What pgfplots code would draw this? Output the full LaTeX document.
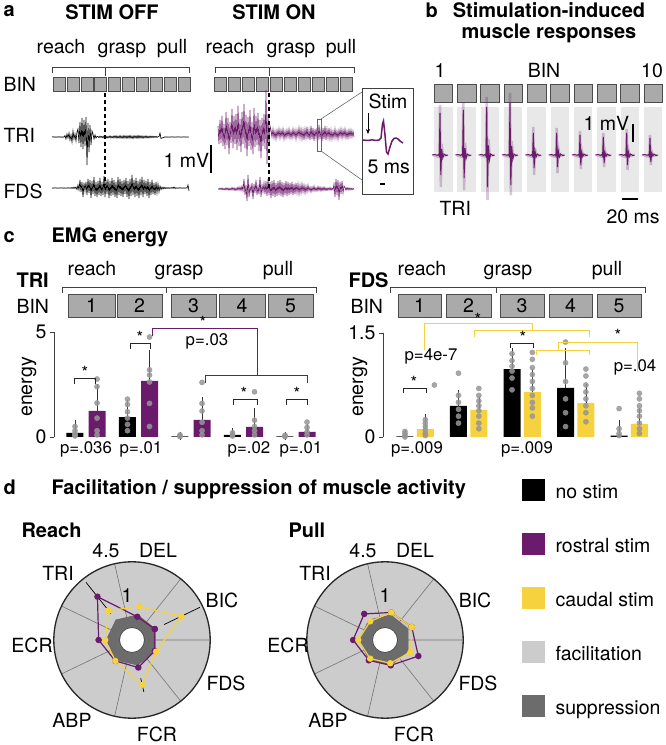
\documentclass[border=0pt]{standalone}
\usepackage{pgfplots}
\pgfplotsset{compat=1.18}
\usetikzlibrary{arrows.meta}
\usepackage{fontspec}
\setmainfont{TeX Gyre Heros}
\definecolor{purp}{RGB}{107,27,107}
\definecolor{yell}{RGB}{245,210,62}
\definecolor{facil}{RGB}{204,204,204}
\definecolor{supp}{RGB}{108,108,108}
\definecolor{binbox}{RGB}{170,170,170}
\definecolor{colb}{RGB}{232,232,232}
\definecolor{dotg}{RGB}{150,150,150}
\newcommand\fs{\fontsize{19.5}{23}\selectfont}
\newcommand\bfs{\fontsize{20}{24}\selectfont\bfseries}
\newcommand\ps{\fontsize{16.8}{20}\selectfont}
\pgfplotsset{
 barax/.style={anchor=south west, scale only axis, axis x line=none, axis y line=left,
   y axis line style={-,line width=0.6pt,black!75}, tick align=outside, major tick length=4pt,
   ytick style={line width=0.6pt,black!75}, tick label style={font=\fs},
   /pgf/number format/assume math mode=true, clip=false},
 dots/.style={only marks, mark=*, mark size=2.6pt, color=dotg, opacity=0.85},
 polax/.style={anchor=center, scale only axis, width=156.4pt, height=156.4pt,
   xmin=-5.32, xmax=5.32, ymin=-5.32, ymax=5.32, hide axis, clip=false},
}
\begin{document}
\begin{tikzpicture}[font=\fs, binst/.style={fill=binbox,draw=black!70,line width=0.6pt}]
\useasboundingbox (0,0) rectangle (665pt,745pt);

%================ Panel c: TRI bars
\begin{axis}[barax, at={(54pt,308pt)}, width=263pt, height=105pt,
  xmin=0.39, xmax=5.40, ymin=0, ymax=5, ytick={0,5}]
\addplot[ybar, bar width=17pt, bar shift=0pt, fill=black, draw=none,
  error bars/.cd, y dir=plus, y explicit, error bar style={line width=0.6pt,black!80},
  error mark options={mark size=4pt,line width=0.6pt,black!80}]
  coordinates {(0.79,0.2)+-(0,0.4) (1.79,0.95)+-(0,0.62) (2.79,0.03)+-(0,0.04) (3.79,0.1)+-(0,0.14) (4.79,0.03)+-(0,0.04)};
\addplot[ybar, bar width=17pt, bar shift=0pt, fill=purp, draw=none,
  error bars/.cd, y dir=plus, y explicit, error bar style={line width=0.6pt,black!80},
  error mark options={mark size=4pt,line width=0.6pt,black!80}]
  coordinates {(1.21,1.24)+-(0,1.09) (2.21,2.67)+-(0,1.28) (3.21,0.81)+-(0,0.9) (4.21,0.48)+-(0,0.71) (5.21,0.24)+-(0,0.19)};
\addplot[dots] coordinates {(0.79,0.5)(0.79,0.3)(0.79,0.15)(0.79,0.1)(0.79,0.05)
 (1.79,1.8)(1.79,1.55)(1.79,1.2)(1.79,0.9)(1.79,0.6)(1.79,0.3)
 (2.79,0.1)(2.79,0.05)(2.79,0.02)(3.79,0.2)(3.79,0.1)(3.79,0.05)(4.79,0.08)(4.79,0.04)(4.79,0.02)};
\addplot[dots] coordinates {(1.21,2.76)(1.21,2.4)(1.21,1.62)(1.21,0.9)(1.21,0.3)(1.21,0.1)
 (2.21,4.76)(2.21,3.2)(2.21,2.95)(2.21,2.62)(2.21,1.6)(2.21,0.5)
 (3.21,2.6)(3.21,1.6)(3.21,1.24)(3.21,0.7)(3.21,0.3)(3.21,0.1)
 (4.21,2.15)(4.21,0.8)(4.21,0.5)(4.21,0.3)(4.21,0.1)
 (5.21,0.71)(5.21,0.45)(5.21,0.25)(5.21,0.1)};
\end{axis}

%================ Panel c: FDS bars
\begin{axis}[barax, at={(383pt,308pt)}, width=265pt, height=104pt,
  xmin=0.40, xmax=5.35, ymin=0, ymax=1.5, ytick={0,1.5}]
\addplot[ybar, bar width=17pt, bar shift=0pt, fill=black, draw=none,
  error bars/.cd, y dir=plus, y explicit, error bar style={line width=0.6pt,black!80},
  error mark options={mark size=4pt,line width=0.6pt,black!80}]
  coordinates {(0.81,0.01)+-(0,0.03) (1.81,0.45)+-(0,0.17) (2.81,0.98)+-(0,0.24) (3.81,0.71)+-(0,0.52) (4.81,0.02)+-(0,0.17)};
\addplot[ybar, bar width=17pt, bar shift=0pt, fill=yell, draw=none,
  error bars/.cd, y dir=plus, y explicit, error bar style={line width=0.6pt,black!80},
  error mark options={mark size=4pt,line width=0.6pt,black!80}]
  coordinates {(1.19,0.115)+-(0,0.155) (2.19,0.39)+-(0,0.13) (3.19,0.65)+-(0,0.27) (4.19,0.49)+-(0,0.22) (5.19,0.19)+-(0,0.17)};
\addplot[dots] coordinates {(0.81,0.08)(0.81,0.05)(0.81,0.02)(0.81,0)
 (1.81,0.92)(1.81,0.6)(1.81,0.5)(1.81,0.4)(1.81,0.3)(1.81,0.2)
 (2.81,1.2)(2.81,1.1)(2.81,1.02)(2.81,0.95)(2.81,0.85)(2.81,0.68)
 (3.81,1.37)(3.81,1.07)(3.81,0.8)(3.81,0.55)(3.81,0.35)(3.81,0.15)
 (4.81,0.41)(4.81,0.12)(4.81,0.05)(4.81,0.02)};
\addplot[dots] coordinates {(1.19,0.25)(1.19,0.2)(1.19,0.15)(1.19,0.1)(1.19,0.05)(1.19,0.02)(1.36,0.75)
 (2.19,0.7)(2.19,0.6)(2.19,0.52)(2.19,0.45)(2.19,0.38)(2.19,0.3)(2.19,0.2)(2.19,0.12)
 (3.19,1.22)(3.19,1.12)(3.19,1.0)(3.19,0.9)(3.19,0.8)(3.19,0.7)(3.19,0.6)(3.19,0.5)(3.19,0.42)(3.19,0.3)
 (4.19,0.98)(4.19,0.88)(4.19,0.75)(4.19,0.65)(4.19,0.55)(4.19,0.45)(4.19,0.35)(4.19,0.22)
 (5.19,0.63)(5.19,0.55)(5.19,0.45)(5.19,0.38)(5.19,0.3)(5.19,0.2)(5.19,0.12)(5.19,0.05)};
\end{axis}

%================ Panel d: Reach polar
\begin{axis}[polax, at={(132pt,105pt)}]
\fill[facil] (0,0) circle[radius=5.32];
\addplot[black!55, line width=0.6pt, data cs=polar, empty line=jump] table {
a r
0 0.82
0 5.32

51.43 0.82
51.43 5.32

102.86 0.82
102.86 5.32

154.29 0.82
154.29 5.32

205.71 0.82
205.71 5.32

257.14 0.82
257.14 5.32

308.57 0.82
308.57 5.32
};
\addplot[fill=supp, draw=black!60, line width=0.6pt, data cs=polar] table {
a r
25.71 1.75
77.14 1.75
128.57 1.75
180 1.75
231.43 1.75
282.86 1.75
334.29 1.75
25.71 1.75
};
\draw[black!70, line width=0.8pt, fill=white] (0,0) circle[radius=0.85];
\draw[black!85, line width=1.3pt] (0,0) circle[radius=5.32];
\addplot[purp, line width=1.2pt, mark=*, mark size=2.6pt, mark options={fill=purp}, data cs=polar] table[x=a, y expr=\thisrow{v}+0.82] {
a v
25.71 0.9
77.14 0.8
128.57 2.95
180 1.45
231.43 1.0
282.86 1.1
334.29 0.9
25.71 0.9
};
\addplot[yell, line width=1.2pt, mark=*, mark size=2.6pt, mark options={fill=yell}, data cs=polar] table[x=a, y expr=\thisrow{v}+0.82] {
a v
25.71 2.9
77.14 1.5
128.57 1.75
180 1.0
231.43 1.0
282.86 2.3
334.29 1.0
25.71 2.9
};
\addplot[black, line width=0.7pt, data cs=polar, empty line=jump] table[x=a, y expr=\thisrow{v}+0.82] {
a v
25.71 0.75
25.71 1.05

77.14 0.65
77.14 0.95

128.57 1.7
128.57 4.2

180 1.25
180 1.65

231.43 0.8
231.43 1.2

282.86 0.95
282.86 1.25

334.29 0.75
334.29 1.05

25.71 1.6
25.71 4.3

77.14 1.3
77.14 1.7

128.57 1.5
128.57 2.0

180 0.85
180 1.15

231.43 0.85
231.43 1.15

282.86 1.85
282.86 2.8

334.29 0.85
334.29 1.15
};
\end{axis}

%================ Panel d: Pull polar
\begin{axis}[polax, at={(385pt,105pt)}]
\fill[facil] (0,0) circle[radius=5.32];
\addplot[black!55, line width=0.6pt, data cs=polar, empty line=jump] table {
a r
0 0.82
0 5.32

51.43 0.82
51.43 5.32

102.86 0.82
102.86 5.32

154.29 0.82
154.29 5.32

205.71 0.82
205.71 5.32

257.14 0.82
257.14 5.32

308.57 0.82
308.57 5.32
};
\addplot[fill=supp, draw=black!60, line width=0.6pt, data cs=polar] table {
a r
25.71 1.75
77.14 1.75
128.57 1.75
180 1.75
231.43 1.75
282.86 1.75
334.29 1.75
25.71 1.75
};
\draw[black!70, line width=0.8pt, fill=white] (0,0) circle[radius=0.85];
\draw[black!85, line width=1.3pt] (0,0) circle[radius=5.32];
\addplot[purp, line width=1.2pt, mark=*, mark size=2.6pt, mark options={fill=purp}, data cs=polar] table[x=a, y expr=\thisrow{v}+0.82] {
a v
25.71 1.2
77.14 1.1
128.57 1.45
180 1.35
231.43 0.95
282.86 0.95
334.29 1.7
25.71 1.2
};
\addplot[yell, line width=1.2pt, mark=*, mark size=2.6pt, mark options={fill=yell}, data cs=polar] table[x=a, y expr=\thisrow{v}+0.82] {
a v
25.71 1.2
77.14 1.1
128.57 0.8
180 1.0
231.43 0.8
282.86 0.8
334.29 1.1
25.71 1.2
};
\addplot[black, line width=0.7pt, data cs=polar, empty line=jump] table[x=a, y expr=\thisrow{v}+0.82] {
a v
25.71 1.05
25.71 1.35

77.14 0.95
77.14 1.25

128.57 1.25
128.57 1.65

180 1.2
180 1.5

231.43 0.8
231.43 1.1

282.86 0.8
282.86 1.1

334.29 1.5
334.29 1.9

25.71 1.05
25.71 1.35

77.14 0.95
77.14 1.25

128.57 0.65
128.57 0.95

180 0.85
180 1.15

231.43 0.65
231.43 0.95

282.86 0.65
282.86 0.95

334.29 0.95
334.29 1.25
};
\end{axis}

%================ Master axis in pixel coordinates
\begin{axis}[at={(0pt,0pt)}, anchor=south west, scale only axis, width=665pt, height=745pt,
  xmin=0, xmax=665, ymin=0, ymax=745, y dir=reverse, hide axis, clip=false]
% ---- panel a
\node[anchor=base west, font=\bfs] at (0,16) {a};
\node[anchor=base, font=\bfs] at (112,19) {STIM OFF};
\node[anchor=base, font=\bfs] at (274,19) {STIM ON};
\node[anchor=base] at (61,53) {reach};
\node[anchor=base] at (122,53) {grasp};
\node[anchor=base] at (172,53) {pull};
\node[anchor=base] at (230,53) {reach};
\node[anchor=base] at (291,53) {grasp};
\node[anchor=base] at (341,53) {pull};
\draw[black!75, line width=0.7pt] (52,73) -- (52,67) -- (189,67) -- (189,73);
\draw[black!75, line width=0.7pt] (105,67) -- (105,76);
\draw[black!75, line width=0.7pt] (215,73) -- (215,67) -- (354,67) -- (354,73);
\draw[black!75, line width=0.7pt] (269,67) -- (269,76);
\pgfplotsinvokeforeach{0,...,9}{
  \draw[binst] ({53+13.9*#1},77) rectangle ({65+13.9*#1},91);
  \draw[binst] ({214+14*#1},77) rectangle ({226.5+14*#1},91);
}
\node[anchor=base west] at (0,91) {BIN};
\node[anchor=base west] at (0,142) {TRI};
\node[anchor=base west] at (0,198) {FDS};
\node[anchor=base west] at (160,167) {1 mV};
\draw[line width=1.2pt] (211,145) -- (211,173);
% TRI off
\addplot[black, line width=0.65pt] table[header=false, row sep=\\, x expr=\coordindex+52, y expr=137-(\thisrowno{0})] {
0\\0.3\\-0.2\\0.2\\-0.3\\0.2\\-0.2\\0.3\\-0.2\\0.2\\-0.3\\0.2\\-0.2\\
1.5\\-2\\3\\-1\\4\\-3\\2\\-5\\6\\-2\\3\\-4\\5\\
8\\-6\\15\\-10\\19\\-12\\17\\-9\\20\\-28\\14\\-15\\12\\-8\\6\\
3\\-2\\2\\-1\\0.5\\
0.5\\-0.6\\0.8\\-0.5\\0.6\\-0.9\\1\\-0.7\\0.8\\-1\\
0.6\\-0.8\\1.2\\-0.9\\0.7\\-1\\1.1\\-0.8\\1.3\\-1.2\\
0.9\\-1\\1.4\\-1.1\\1\\-1.3\\1.5\\-1\\1.2\\-1.4\\
1.3\\-1.1\\1.6\\-1.2\\1\\-1.5\\1.4\\-1\\1.2\\-1.3\\
1.5\\-1.2\\1.3\\-1\\1.1\\-1.3\\1\\-0.9\\1.2\\-1\\
0.8\\-0.9\\1\\-0.7\\0.8\\-0.6\\0.7\\-0.5\\0.6\\-0.4\\
0.3\\0.5\\4\\-1.5\\-1\\-0.6\\-0.3\\
0.2\\-0.2\\0.2\\-0.2\\0.1\\-0.2\\0.2\\-0.1\\0.2\\-0.2\\
0.1\\-0.2\\0.2\\-0.1\\0.2\\-0.2\\0.1\\-0.2\\0.2\\-0.1\\
0.2\\-0.2\\0.1\\-0.1\\0\\
};
% FDS off
\addplot[black, line width=0.65pt] table[header=false, row sep=\\, x expr=\coordindex+52, y expr=188-(\thisrowno{0})] {
0.2\\-0.2\\0.2\\-0.1\\0.2\\-0.2\\0.1\\-0.2\\0.2\\-0.1\\
0.2\\-0.2\\0.2\\-0.2\\0.1\\-0.2\\0.3\\-0.2\\0.2\\-0.3\\
0.5\\-0.4\\0.8\\-0.5\\1\\-1.5\\3\\-2\\
8\\-4\\6\\-9\\5\\-3\\
6\\-7\\9\\-5\\8\\-10\\7\\-6\\11\\-8\\
6\\-9\\7\\-7\\10\\-8\\6\\-7\\12\\-9\\
8\\-6\\9\\-10\\7\\-8\\10\\-7\\8\\-9\\
6\\-10\\11\\-7\\9\\-8\\7\\-9\\8\\-6\\
10\\-9\\7\\-11\\9\\-8\\13\\-7\\8\\-9\\
10\\-8\\7\\-10\\9\\-7\\11\\-9\\8\\-6\\
7\\-8\\9\\-10\\6\\-7\\8\\-6\\5\\-7\\
6\\-5\\4\\-4\\
2\\-1.5\\1\\-1\\0.8\\-0.6\\0.5\\-0.5\\0.4\\-0.4\\
0.3\\-0.3\\0.5\\-0.3\\1\\-0.5\\0.3\\-0.3\\0.2\\-0.2\\
0.3\\-0.2\\0.2\\-0.2\\0.2\\-0.2\\0.2\\-0.1\\
3\\-3\\
};
% TRI on
\addplot[purp, line width=0.65pt] table[header=false, row sep=\\, x expr=\coordindex+218, y expr=134-(\thisrowno{0})] {
8\\-10\\14\\-9\\18\\-12\\10\\-15\\22\\-11\\
16\\-20\\12\\-9\\25\\-14\\18\\-10\\20\\-16\\
28\\-12\\15\\-18\\22\\-10\\30\\-14\\19\\-22\\
17\\-12\\24\\-16\\12\\-20\\26\\-13\\18\\-11\\
21\\-17\\14\\-24\\16\\-12\\20\\-15\\
44\\-30\\20\\-12\\8\\
4\\-3\\5\\-4\\3\\-5\\4\\-3\\5\\-4\\
4\\-3\\5\\-5\\3\\-4\\4\\-3\\5\\-4\\
3\\-4\\5\\-3\\4\\-5\\4\\-3\\6\\-4\\
5\\-5\\4\\-6\\5\\-4\\7\\-5\\4\\-6\\
8\\-5\\6\\-7\\5\\-4\\6\\-6\\9\\-5\\
4\\-7\\6\\-5\\8\\-6\\5\\-4\\6\\-5\\
4\\-5\\3\\-4\\5\\-4\\3\\-5\\4\\-3\\
5\\-4\\4\\-3\\5\\-4\\3\\-4\\4\\-3\\
4\\-3\\3\\-3\\
};
% FDS on
\addplot[purp, line width=0.65pt] table[header=false, row sep=\\, x expr=\coordindex+218, y expr=189-(\thisrowno{0})] {
0.5\\-0.5\\0.8\\-0.6\\1\\-0.8\\0.6\\-1\\1.2\\-0.8\\
1\\-1.2\\0.8\\-1\\1.5\\-1\\1.2\\-1.5\\1\\-1.3\\
1.8\\-1.2\\2\\-1.5\\3\\
-2\\10\\-6\\4\\-12\\14\\-8\\3\\-3\\6\\
-10\\5\\-4\\9\\-6\\3\\-5\\12\\-8\\4\\
-3\\
6\\-5\\8\\-7\\10\\-6\\7\\-9\\8\\-7\\
9\\-8\\6\\-7\\8\\-6\\9\\-7\\7\\-8\\
6\\-6\\8\\-7\\7\\-6\\6\\-5\\7\\-6\\
5\\-5\\6\\-4\\5\\-5\\4\\-4\\5\\-3\\
4\\-4\\3\\-3\\4\\
-2\\2\\-3\\2\\-2\\3\\-2\\1.5\\-2\\2.5\\
-1.5\\2\\-2\\1.5\\-1.5\\2\\-1.5\\1.2\\-1.5\\1.2\\
-1\\1.5\\-1.2\\1\\-1\\
5\\-8\\10\\-6\\9\\-11\\7\\-5\\8\\-4\\3\\
1.5\\-1.2\\1.5\\-1\\1.2\\-1\\1\\-0.8\\0.6\\-0.5\\
};
\draw[black, line width=1.3pt, dash pattern=on 4pt off 3pt] (105,93) -- (105,185);
\draw[black, line width=1.3pt, dash pattern=on 4pt off 3pt] (269,93) -- (269,188);
% inset
\draw[black!60, line width=0.6pt] (317,119) rectangle (321,151);
\draw[black!60, line width=0.6pt] (321,119) -- (362,92);
\draw[black!60, line width=0.6pt] (321,151) -- (362,180);
\draw[black!75, line width=0.8pt, fill=white] (362,88) rectangle (413,194);
\node[anchor=base west] at (365,108) {Stim};
\draw[-{Stealth[length=5pt,width=4pt]}, line width=0.7pt] (368,113) -- (368,134);
\addplot[purp, line width=1.5pt] coordinates {(363,140)(368,140.5)(372,139.8)(376,140.5)(379,140)(381,138)(382.5,124)(383.5,121)(385,135)(386.5,152)(388,154)(390,147)(392,141)(394,138.5)(396,138)(398,139)(400,141)(403,143)};
\node[anchor=base west] at (364,173) {5 ms};
\draw[line width=1.2pt] (380,184) -- (385,184);
% ---- panel b
\node[anchor=base west, font=\bfs] at (422,17) {b};
\node[anchor=base, font=\bfs] at (549,17) {Stimulation-induced};
\node[anchor=base, font=\bfs] at (549,38) {muscle responses};
\node[anchor=base] at (440,77) {1};
\node[anchor=base] at (544,77) {BIN};
\node[anchor=base] at (652,77) {10};
\pgfplotsinvokeforeach{0,...,9}{
  \fill[colb] ({434+23.33*#1},107) rectangle ({452.5+23.33*#1},192);
  \draw[binst] ({434+23.33*#1},84) rectangle ({452.5+23.33*#1},102);
}
\addplot[purp, opacity=0.25, line width=2.5pt] coordinates {(433,155)(439.3,157)(440,105)(440.8,187)(441.7,143.8)(443,156)(447,155)};
\addplot[purp, opacity=0.25, line width=2.5pt] coordinates {(456.3,155)(462.6,157)(463.3,103)(464.1,190)(465,142.8)(466.3,156)(470.3,155)};
\addplot[purp, opacity=0.25, line width=2.5pt] coordinates {(479.7,155)(486,157)(486.7,97)(487.5,200)(488.4,139.3)(489.7,156)(493.7,155)};
\addplot[purp, opacity=0.25, line width=2.5pt] coordinates {(503,155)(509.3,157)(510,93)(510.8,195)(511.7,141)(513,156)(517,155)};
\addplot[purp, opacity=0.25, line width=2.5pt] coordinates {(526.3,155)(532.6,157)(533.3,127)(534.1,175)(535,148)(536.3,156)(540.3,155)};
\addplot[purp, opacity=0.25, line width=2.5pt] coordinates {(549.7,155)(556,157)(556.7,128)(557.5,173)(558.4,148.7)(559.7,156)(563.7,155)};
\addplot[purp, opacity=0.25, line width=2.5pt] coordinates {(573,155)(579.3,157)(580,131)(580.8,169)(581.7,150.1)(583,156)(587,155)};
\addplot[purp, opacity=0.25, line width=2.5pt] coordinates {(596.3,155)(602.6,157)(603.3,133)(604.1,167)(605,150.8)(606.3,156)(610.3,155)};
\addplot[purp, opacity=0.25, line width=2.5pt] coordinates {(619.7,155)(626,157)(626.7,129)(627.5,170)(628.4,149.8)(629.7,156)(633.7,155)};
\addplot[purp, opacity=0.25, line width=2.5pt] coordinates {(643,155)(649.3,157)(650,135)(650.8,165)(651.7,151.5)(653,156)(657,155)};
\addplot[purp, line width=1pt] coordinates {(432,155)(435,154.5)(437,155.3)(438.5,154.5)(439.3,156)(440,113)(440.8,175)(441.7,149)(442.8,158)(444,154)(446,155.5)(448,155)};
\addplot[purp, line width=1pt] coordinates {(455.3,155)(458.3,154.5)(460.3,155.3)(461.8,154.5)(462.6,156)(463.3,110)(464.1,178)(465,148.1)(466.1,158.5)(467.3,154)(469.3,155.5)(471.3,155)};
\addplot[purp, line width=1pt] coordinates {(478.7,155)(481.7,154.5)(483.7,155.3)(485.2,154.5)(486,156)(486.7,107)(487.5,187)(488.4,145.4)(489.5,159.8)(490.7,154)(492.7,155.5)(494.7,155)};
\addplot[purp, line width=1pt] coordinates {(502,155)(505,154.5)(507,155.3)(508.5,154.5)(509.3,156)(510,103)(510.8,185)(511.7,146)(512.8,159.5)(514,154)(516,155.5)(518,155)};
\addplot[purp, line width=1pt] coordinates {(525.3,155)(528.3,154.5)(530.3,155.3)(531.8,154.5)(532.6,156)(533.3,133)(534.1,168)(535,151.1)(536.1,157)(537.3,154)(539.3,155.5)(541.3,155)};
\addplot[purp, line width=1pt] coordinates {(548.7,155)(551.7,154.5)(553.7,155.3)(555.2,154.5)(556,156)(556.7,133)(557.5,167)(558.4,151.4)(559.5,156.8)(560.7,154)(562.7,155.5)(564.7,155)};
\addplot[purp, line width=1pt] coordinates {(572,155)(575,154.5)(577,155.3)(578.5,154.5)(579.3,156)(580,135)(580.8,165)(581.7,152)(582.8,156.5)(584,154)(586,155.5)(588,155)};
\addplot[purp, line width=1pt] coordinates {(595.3,155)(598.3,154.5)(600.3,155.3)(601.8,154.5)(602.6,156)(603.3,137)(604.1,163)(605,152.6)(606.1,156.2)(607.3,154)(609.3,155.5)(611.3,155)};
\addplot[purp, line width=1pt] coordinates {(618.7,155)(621.7,154.5)(623.7,155.3)(625.2,154.5)(626,156)(626.7,133)(627.5,165)(628.4,152)(629.5,156.5)(630.7,154)(632.7,155.5)(634.7,155)};
\addplot[purp, line width=1pt] coordinates {(642,155)(645,154.5)(647,155.3)(648.5,154.5)(649.3,156)(650,138)(650.8,162)(651.7,152.9)(652.8,156)(654,154)(656,155.5)(658,155)};
\node[anchor=base west] at (580,130) {1 mV};
\draw[line width=1.2pt] (633,124) -- (633,142);
\node[anchor=base west] at (436,215) {TRI};
\node[anchor=base west] at (603,223) {20 ms};
\draw[line width=1.2pt] (622,199) -- (638,199);
% ---- panel c
\node[anchor=base west, font=\bfs] at (0,242) {c};
\node[anchor=base west, font=\bfs] at (48,242) {EMG energy};
\node[anchor=base west, font=\bfs] at (13,287) {TRI};
\node[anchor=base west] at (13,313) {BIN};
\node[anchor=base] at (92,275) {reach};
\node[anchor=base] at (179,275) {grasp};
\node[anchor=base] at (278,275) {pull};
\draw[black!75, line width=0.7pt] (62,293) -- (62,287) -- (316,287) -- (316,293);
\draw[black!75, line width=0.7pt] (166,287) -- (166,293);
\draw[binst] (68,294) rectangle (115,317); \node at (91.5,305.5) {1};
\draw[binst] (117,294) rectangle (162,317); \node at (139.5,305.5) {2};
\draw[binst] (171,294) rectangle (216,317); \node at (193.5,305.5) {3};
\draw[binst] (219,294) rectangle (265,317); \node at (242,305.5) {4};
\draw[binst] (268,294) rectangle (313,317); \node at (290.5,305.5) {5};
\node[rotate=90] at (29,387) {energy};
\node[anchor=base west, font=\bfs] at (345,287) {FDS};
\node[anchor=base west] at (347,313) {BIN};
\node[anchor=base] at (422,275) {reach};
\node[anchor=base] at (508,275) {grasp};
\node[anchor=base] at (607,275) {pull};
\draw[black!75, line width=0.7pt] (390,293) -- (390,287) -- (645,287) -- (645,293);
\draw[black!75, line width=0.7pt] (496,287) -- (496,293);
\draw[binst] (398,294) rectangle (441,317); \node at (419.5,305.5) {1};
\draw[binst] (446,294) rectangle (491,317); \node at (468.5,305.5) {2};
\draw[binst] (500,294) rectangle (544,317); \node at (522,305.5) {3};
\draw[binst] (549,294) rectangle (592,317); \node at (570.5,305.5) {4};
\draw[binst] (597,294) rectangle (641,317); \node at (619,305.5) {5};
\node[rotate=90] at (360,387) {energy};
% TRI significance
\draw[black!85, line width=0.7pt] (74,384) -- (74,378) -- (95,378) -- (95,384);
\node[font=\ps] at (85,372) {*};
\draw[black!85, line width=0.7pt] (130,349) -- (130,343) -- (150,343) -- (150,349);
\node[font=\ps] at (140,337) {*};
\draw[black!85, line width=0.7pt] (233,405) -- (233,399) -- (257,399) -- (257,405);
\node[font=\ps] at (244,393) {*};
\draw[black!85, line width=0.7pt] (286,405) -- (286,399) -- (307,399) -- (307,405);
\node[font=\ps] at (297,393) {*};
\draw[purp, line width=0.8pt] (152,336) -- (152,328) -- (257,328) -- (257,375);
\draw[purp, line width=0.8pt] (205,383) -- (205,375) -- (307,375) -- (307,383);
\node[font=\ps] at (203,322) {*};
\node[anchor=base, font=\ps] at (207,345) {p=.03};
\node[anchor=base, font=\ps] at (86,453) {p=.036};
\node[anchor=base, font=\ps] at (141,453) {p=.01};
\node[anchor=base, font=\ps] at (249,453) {p=.02};
\node[anchor=base, font=\ps] at (301,453) {p=.01};
% FDS significance
\draw[yell, line width=1pt] (424,350) -- (424,323) -- (532,323) -- (532,330);
\draw[yell, line width=1pt] (474,337) -- (474,330) -- (589,330) -- (589,337);
\node[font=\ps] at (478,319) {*};
\draw[black!85, line width=0.7pt] (510,348) -- (510,343) -- (533,343) -- (533,348);
\node[font=\ps] at (523,337) {*};
\draw[yell, line width=1pt] (536,355) -- (536,350) -- (589,350) -- (589,355);
\draw[yell, line width=1pt] (558,350) -- (558,342) -- (637,342) -- (637,372);
\node[font=\ps] at (618,335) {*};
\draw[black!85, line width=0.7pt] (403,393) -- (403,388) -- (426,388) -- (426,393);
\node[font=\ps] at (414,382) {*};
\node[anchor=base, font=\ps] at (431,360) {p=4e-7};
\node[anchor=base, font=\ps] at (635,371) {p=.04};
\node[anchor=base, font=\ps] at (417,453) {p=.009};
\node[anchor=base, font=\ps] at (527,453) {p=.009};
% ---- panel d
\node[anchor=base west, font=\bfs] at (0,494) {d};
\node[anchor=base west, font=\bfs] at (48,494) {Facilitation / suppression of muscle activity};
\node[anchor=base west, font=\bfs] at (18,537) {Reach};
\node[anchor=base west, font=\bfs] at (285,537) {Pull};
\node at (106,551) {4.5};
\node at (158,550) {DEL};
\node at (58,573) {TRI};
\node at (127,596) {1};
\node at (222,600) {BIC};
\node at (32,645) {ECR};
\node at (226,683) {FDS};
\node at (72,720) {ABP};
\node[anchor=base, inner sep=0pt] at (157,741) {FCR};
\node at (363,551) {4.5};
\node at (415,550) {DEL};
\node at (315,573) {TRI};
\node at (385,596) {1};
\node at (475,600) {BIC};
\node at (288,645) {ECR};
\node at (478,683) {FDS};
\node at (328,720) {ABP};
\node[anchor=base, inner sep=0pt] at (414,741) {FCR};
% legend
\fill[black] (522,479) rectangle (545,501);
\node[anchor=base west] at (552,498) {no stim};
\fill[purp] (522,533) rectangle (545,555);
\node[anchor=base west] at (552,552) {rostral stim};
\fill[yell] (522,587) rectangle (545,609);
\node[anchor=base west] at (552,606) {caudal stim};
\fill[facil] (522,641) rectangle (545,663);
\node[anchor=base west] at (552,660) {facilitation};
\fill[supp] (522,695) rectangle (545,717);
\node[anchor=base west] at (552,714) {suppression};
\end{axis}
\end{tikzpicture}
\end{document}
